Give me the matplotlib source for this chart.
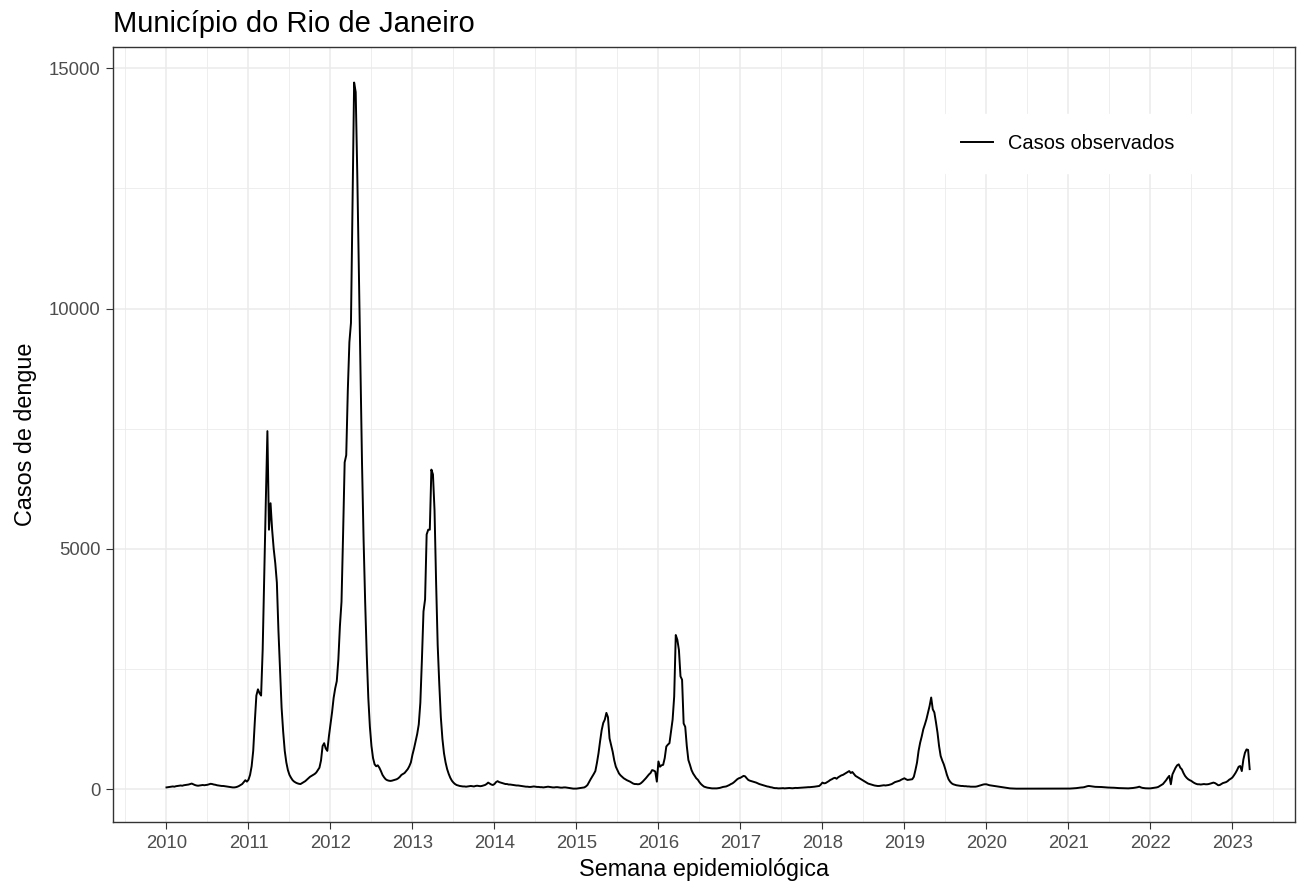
import matplotlib
matplotlib.use("Agg")
import matplotlib.pyplot as plt
from matplotlib.ticker import MultipleLocator
import numpy as np

plt.rcParams['font.family'] = ['Liberation Sans', 'DejaVu Sans']

# weekly dengue cases, one list per year (epidemiological weeks)
casos_2010 = [40, 45, 50, 55, 60, 55, 65, 70, 75, 80, 75, 85, 90, 95, 100, 110, 120, 105, 90, 80,
              75, 80, 85, 90, 85, 90, 95, 105, 115, 110, 100, 95, 85, 80, 75, 70, 70, 65, 60, 55,
              50, 45, 40, 40, 45, 55, 70, 90, 110, 150, 190, 160]
casos_2011 = [200, 300, 480, 800, 1400, 1950, 2080, 2000, 1950, 2900, 4500, 6000, 7450, 5400, 5950, 5400,
              5000, 4700, 4300, 3300, 2500, 1700, 1200, 800, 560, 400, 300, 240, 190, 160, 140, 125,
              115, 110, 130, 150, 170, 200, 230, 260, 280, 300, 320, 350, 400, 450, 600, 900, 960, 850,
              800, 1100]
casos_2012 = [1350, 1600, 1900, 2100, 2250, 2700, 3400, 3900, 5300, 6800, 6950, 8300, 9300, 9700, 12200, 14700,
              14500, 12800, 10800, 8800, 6800, 5200, 3900, 2800, 1900, 1300, 900, 650, 520, 480, 500, 450,
              380, 300, 250, 210, 190, 180, 175, 180, 190, 200, 210, 230, 260, 300, 320, 340, 380, 420,
              480, 560]
casos_2013 = [720, 850, 1000, 1150, 1350, 1800, 2700, 3700, 3950, 5300, 5400, 5400, 6650, 6550, 5800, 4300,
              3000, 2200, 1500, 1050, 750, 560, 420, 320, 240, 180, 140, 110, 90, 80, 70, 65,
              60, 60, 55, 60, 65, 70, 65, 60, 70, 75, 70, 65, 70, 80, 90, 110, 140, 120,
              100, 90]
casos_2014 = [110, 150, 170, 150, 140, 130, 120, 110, 110, 100, 100, 95, 90, 85, 80, 80, 75, 70, 65, 60,
              55, 55, 50, 50, 55, 60, 55, 50, 50, 45, 45, 40, 45, 50, 55, 50, 45, 40, 40, 45,
              45, 40, 35, 35, 40, 40, 35, 30, 25, 20, 15, 15]
casos_2015 = [15, 20, 25, 30, 35, 40, 60, 90, 150, 210, 265, 320, 380, 550, 750, 1000, 1230, 1380, 1450, 1590,
              1500, 1060, 920, 780, 600, 470, 400, 330, 290, 260, 230, 210, 190, 175, 160, 140, 120, 110,
              110, 105, 110, 130, 160, 195, 230, 270, 310, 340, 400, 390, 370, 160]
casos_2016 = [580, 470, 500, 510, 650, 890, 930, 960, 1200, 1450, 1930, 3210, 3110, 2900, 2350, 2280, 1370, 1300,
              900, 610, 510, 400, 330, 280, 230, 200, 150, 110, 80, 55, 45, 35, 30, 25, 20, 20,
              20, 20, 25, 30, 40, 50, 55, 60, 75, 90, 110, 125, 150, 180, 210, 230]
casos_2017 = [240, 260, 280, 270, 230, 195, 180, 170, 160, 150, 140, 125, 110, 100, 90, 80, 70, 60, 55, 45,
              40, 30, 25, 25, 20, 20, 22, 25, 20, 22, 25, 28, 25, 22, 25, 30, 28, 30, 32, 35,
              38, 40, 42, 45, 45, 48, 50, 55, 60, 65, 70, 100]
casos_2018 = [140, 125, 130, 150, 170, 195, 210, 230, 240, 220, 250, 270, 290, 300, 320, 340, 360, 380, 340, 360,
              320, 280, 260, 240, 220, 200, 180, 160, 140, 120, 110, 100, 90, 80, 75, 70, 70, 75, 80, 85,
              80, 85, 90, 100, 110, 130, 150, 160, 170, 180, 200, 215]
casos_2019 = [230, 210, 195, 200, 205, 210, 260, 400, 555, 800, 970, 1100, 1250, 1350, 1460, 1600, 1735, 1910, 1665, 1600,
              1400, 1180, 900, 695, 600, 520, 415, 300, 210, 160, 125, 105, 95, 85, 80, 75, 70, 70, 65, 65,
              60, 60, 55, 55, 55, 55, 60, 70, 80, 90, 100, 105]
casos_2020 = [105, 95, 85, 80, 75, 70, 65, 60, 55, 50, 45, 40, 35, 30, 25, 20, 18, 15, 15, 14,
              14, 13, 13, 12, 12, 12, 13, 13, 12, 12, 12, 13, 13, 14, 14, 13, 13, 12, 12, 13,
              13, 14, 14, 13, 13, 14, 15, 15, 14, 14, 15, 15]
casos_2021 = [15, 16, 18, 20, 22, 25, 30, 35, 38, 40, 45, 55, 65, 70, 65, 60, 55, 52, 50, 50,
              50, 48, 45, 42, 40, 38, 36, 35, 35, 33, 30, 28, 26, 25, 24, 22, 21, 20, 20, 22,
              25, 28, 32, 38, 45, 55, 40, 30, 25, 22, 20, 20]
casos_2022 = [20, 25, 30, 35, 40, 50, 70, 90, 110, 150, 190, 240, 280, 105, 310, 380, 450, 500, 520, 450,
              415, 340, 280, 240, 210, 190, 175, 150, 130, 115, 105, 105, 100, 105, 110, 105, 105, 110, 120, 130,
              140, 130, 110, 85, 90, 110, 130, 140, 150, 170, 200, 220]
casos_2023 = [245, 290, 340, 400, 470, 485, 380, 620, 760, 830, 820, 420]

anos = list(range(2010, 2024))
series = [casos_2010, casos_2011, casos_2012, casos_2013, casos_2014, casos_2015, casos_2016,
          casos_2017, casos_2018, casos_2019, casos_2020, casos_2021, casos_2022, casos_2023]

x = []
y = []
for ano, casos in zip(anos, series):
    for semana, valor in enumerate(casos):
        x.append(ano + semana / 52)
        y.append(valor)

fig = plt.figure(figsize=(12.97, 8.86), dpi=100)
ax = fig.add_axes([0.0869, 0.0722, 0.9116, 0.8748])

ax.plot(x, y, color="black", lw=1.4, label="Casos observados", zorder=3)

ax.set_xlim(2009.344, 2023.765)
ax.set_ylim(-680, 15440)
ax.xaxis.set_major_locator(MultipleLocator(1))
ax.xaxis.set_minor_locator(MultipleLocator(0.5))
ax.yaxis.set_major_locator(MultipleLocator(5000))
ax.yaxis.set_minor_locator(MultipleLocator(2500))
ax.xaxis.set_major_formatter(plt.FuncFormatter(lambda v, p: f"{int(round(v))}"))

ax.grid(which="major", color="#EBEBEB", lw=1.1, zorder=0)
ax.grid(which="minor", color="#EBEBEB", lw=0.6, zorder=0)
ax.set_axisbelow(True)

for s in ax.spines.values():
    s.set_color("#333333")
    s.set_linewidth(1.0)

ax.tick_params(which="major", length=5, width=0.8, color="#333333",
               labelsize=13.3, labelcolor="#4D4D4D", pad=4)
ax.tick_params(which="minor", length=0)

ax.set_xlabel("Semana epidemiológica", fontsize=16.8, color="black", labelpad=5)
ax.set_ylabel("Casos de dengue", fontsize=16.8, color="black", labelpad=8)
ax.set_title("Município do Rio de Janeiro", fontsize=21, loc="left", x=0.0, pad=11)

leg = ax.legend(loc="center", bbox_to_anchor=(0.8076, 0.876), frameon=True,
                fontsize=14.4, handlelength=1.6, borderpad=1.0, handletextpad=0.75)
leg.get_frame().set_edgecolor("white")
leg.get_frame().set_facecolor("white")
leg.get_frame().set_alpha(1)
leg.get_frame().set_boxstyle("square", pad=0)

fig.savefig("out.png", dpi=100)
